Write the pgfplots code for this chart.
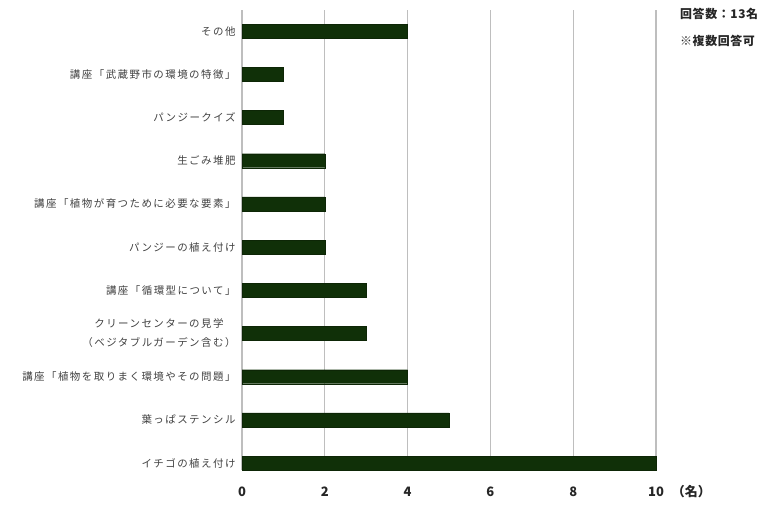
\documentclass[border=0pt]{standalone}
\usepackage{fontspec}
\setmainfont{Noto Sans CJK JP}
\usepackage{pgfplots}
\pgfplotsset{compat=1.18}
\definecolor{bargreen}{RGB}{16,48,8}
\definecolor{gridgray}{RGB}{190,190,190}
\begin{document}
\begin{tikzpicture}
\useasboundingbox (0,0) rectangle (771bp,506bp);
\begin{axis}[
  at={(242bp,36bp)}, anchor=south west,
  scale only axis, width=414bp, height=460bp,
  xmin=0, xmax=10, ymin=-0.16, ymax=10.49,
  xbar, bar width=14bp,
  axis x line*=bottom, x axis line style={draw=none},
  axis y line*=left, y axis line style={gridgray, line width=1.2pt, -},
  xtick={0,2,4,6,8,10},
  xticklabels={0,2,4,6,8,10\rlap{\hspace{8bp}（名）}},
  xmajorgrids, major grid style={gridgray, line width=1.2pt},
  ytick={0,...,10},
  yticklabels={
    イチゴの植え付け,
    葉っぱステンシル,
    講座「植物を取りまく環境やその問題」,
    クリーンセンターの見学\\（ベジタブルガーデン含む）,
    講座「循環型について」,
    パンジーの植え付け,
    講座「植物が育つために必要な要素」,
    生ごみ堆肥,
    パンジークイズ,
    講座「武蔵野市の環境の特徴」,
    その他},
  yticklabel style={font=\fontsize{10.5}{19}\selectfont\addfontfeatures{LetterSpace=14}, text=black!75, align=center, xshift=-3bp},
  xticklabel style={font=\fontsize{13}{14}\selectfont\bfseries, text=black!85, text height=11bp, text depth=3bp, yshift=-12bp},
  major tick length=0pt,
  /pgf/number format/assume math mode=true,
  clip=false,
]
\addplot[fill=bargreen, draw=bargreen!80!black] coordinates {
  (10,0) (5,1) (4,2) (3,3) (3,4) (2,5) (2,6) (2,7) (1,8) (1,9) (4,10)};
\end{axis}
\node[anchor=north west, font=\fontsize{12}{27}\selectfont\bfseries\addfontfeatures{LetterSpace=5}, text=black!85, align=left, inner sep=0pt] at (680bp,498bp) {回答数：13名\\※複数回答可};
\end{tikzpicture}
\end{document}
